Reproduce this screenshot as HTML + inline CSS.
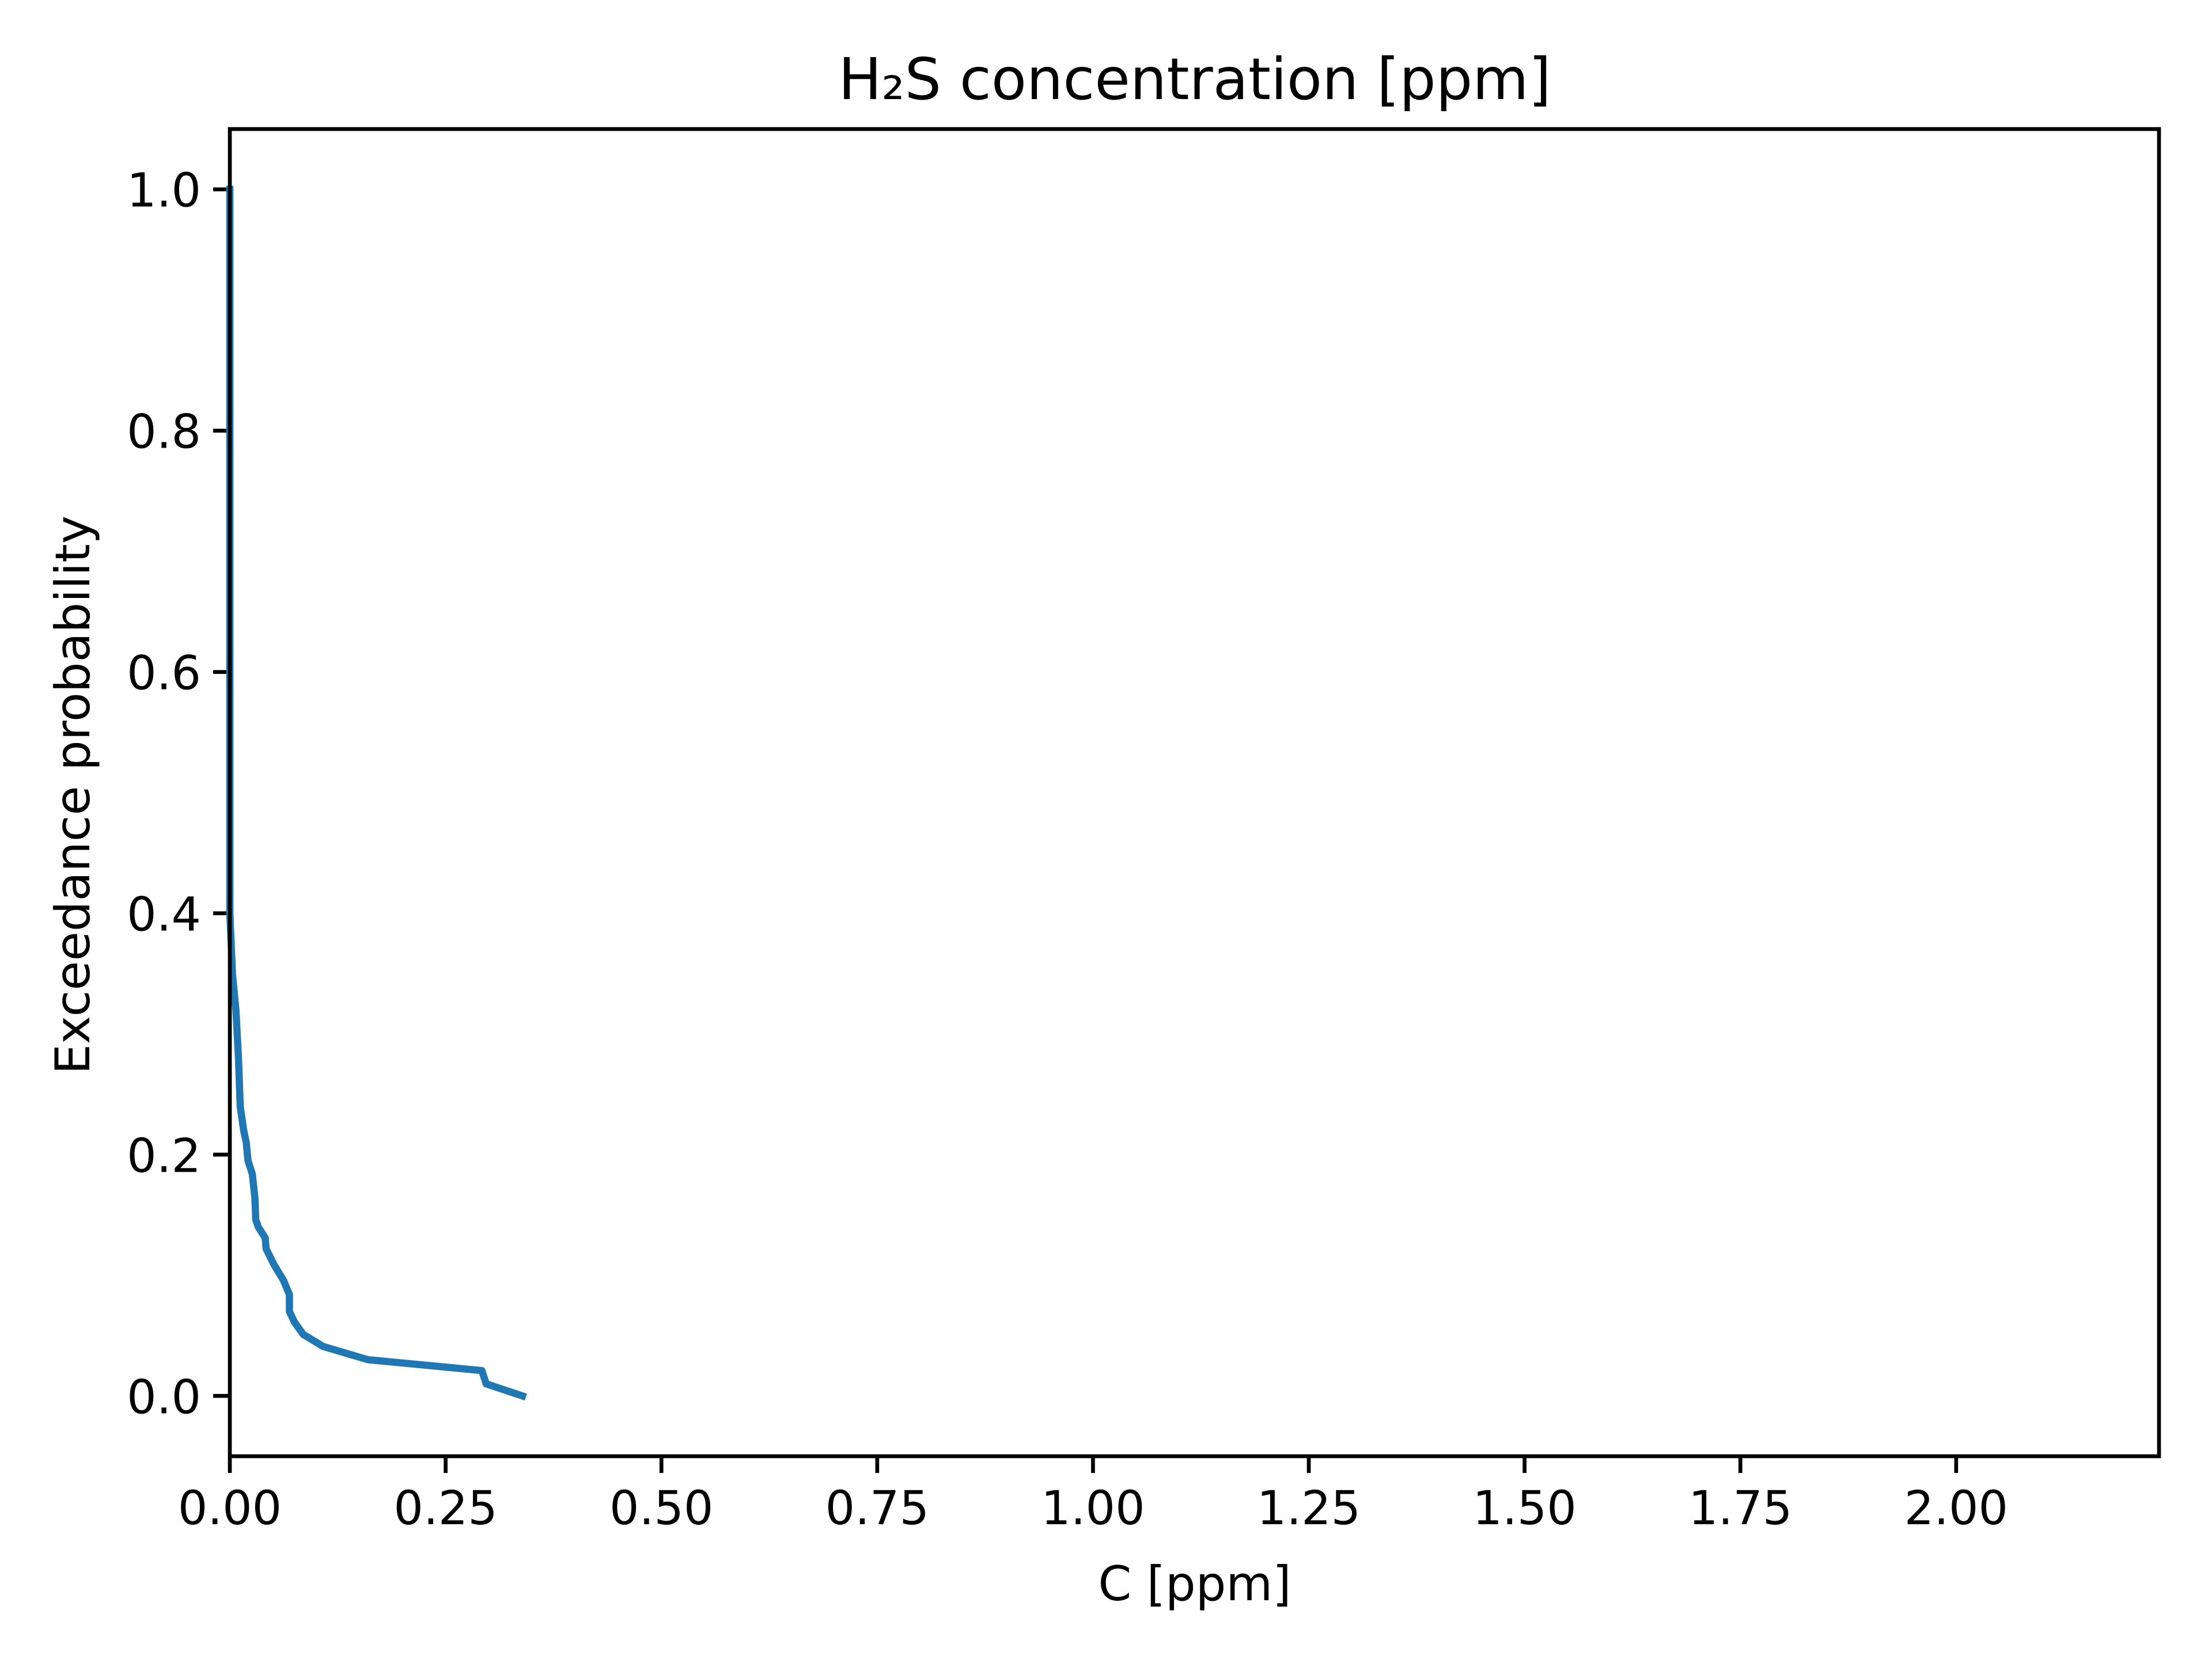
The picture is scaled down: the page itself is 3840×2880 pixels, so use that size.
<!DOCTYPE html>
<html><head><meta charset="utf-8"><style>
html,body{margin:0;padding:0;background:#fff;}
svg{display:block;font-family:"DejaVu Sans","Liberation Sans",sans-serif;}
</style></head><body>
<svg id="chart" width="3840" height="2880" viewBox="0 0 3840 2880" xmlns="http://www.w3.org/2000/svg">
<rect width="3840" height="2880" fill="#fff"/>
<g id="ticks"></g>
<path id="series" fill="none" stroke="#1f77b4" stroke-width="12.5" stroke-linejoin="round" stroke-linecap="square"/>
<rect x="399" y="224" width="3349" height="2304" fill="none" stroke="#000" stroke-width="6.7"/>
<text x="2074" y="172" font-size="100" text-anchor="middle">H₂S concentration [ppm]</text>
<text x="2074" y="2778" font-size="83" text-anchor="middle">C [ppm]</text>
<text transform="translate(155,1380) rotate(-90)" font-size="83" text-anchor="middle">Exceedance probability</text>
</svg>
<script>
const xTicks = [0, 0.25, 0.5, 0.75, 1.0, 1.25, 1.5, 1.75, 2.0];
const xTickLabels = ["0.00","0.25","0.50","0.75","1.00","1.25","1.50","1.75","2.00"];
const yTicks = [0, 0.2, 0.4, 0.6, 0.8, 1.0];
const yTickLabels = ["0.0","0.2","0.4","0.6","0.8","1.0"];
const concValues = [0.0,0.0,0.003,0.007,0.010,0.012,0.016,0.019,0.021,0.026,0.029,0.030,0.033,0.041,0.042,0.051,0.062,0.069,0.069,0.075,0.085,0.108,0.160,0.292,0.297,0.339];
const probValues = [1.0,0.40,0.35,0.32,0.28,0.24,0.22,0.21,0.195,0.184,0.164,0.146,0.14,0.131,0.122,0.109,0.096,0.084,0.07,0.061,0.051,0.041,0.03,0.021,0.01,0.0];

const L=399,R=3748,T=224,B=2528;
const xMin=0,xMax=2.235,yMin=-0.05,yMax=1.05;
function xs(v){return L+(v-xMin)/(xMax-xMin)*(R-L);}
function ys(v){return B-(v-yMin)/(yMax-yMin)*(B-T);}
const NS="http://www.w3.org/2000/svg";
const g=document.getElementById('ticks');
xTicks.forEach((v,i)=>{
  const x=xs(v);
  const ln=document.createElementNS(NS,'line');
  ln.setAttribute('x1',x);ln.setAttribute('x2',x);ln.setAttribute('y1',B);ln.setAttribute('y2',B+29);
  ln.setAttribute('stroke','#000');ln.setAttribute('stroke-width','6.7');
  
  
  g.appendChild(ln);
  const t=document.createElementNS(NS,'text');
  t.setAttribute('x',x);t.setAttribute('y',B+118);t.setAttribute('font-size','81');t.setAttribute('text-anchor','middle');
  t.textContent=xTickLabels[i];
  
  
  g.appendChild(t);
});
yTicks.forEach((v,i)=>{
  const y=ys(v);
  const ln=document.createElementNS(NS,'line');
  ln.setAttribute('x1',L-29);ln.setAttribute('x2',L);ln.setAttribute('y1',y);ln.setAttribute('y2',y);
  ln.setAttribute('stroke','#000');ln.setAttribute('stroke-width','6.7');
  
  
  g.appendChild(ln);
  const t=document.createElementNS(NS,'text');
  t.setAttribute('x',L-50);t.setAttribute('y',y+30);t.setAttribute('font-size','81');t.setAttribute('text-anchor','end');
  t.textContent=yTickLabels[i];
  
  
  g.appendChild(t);
});
document.getElementById('series').setAttribute('d',
  concValues.map((c,i)=>(i?'L':'M')+xs(c).toFixed(1)+' '+ys(probValues[i]).toFixed(1)).join(' '));
</script>
</body></html>
